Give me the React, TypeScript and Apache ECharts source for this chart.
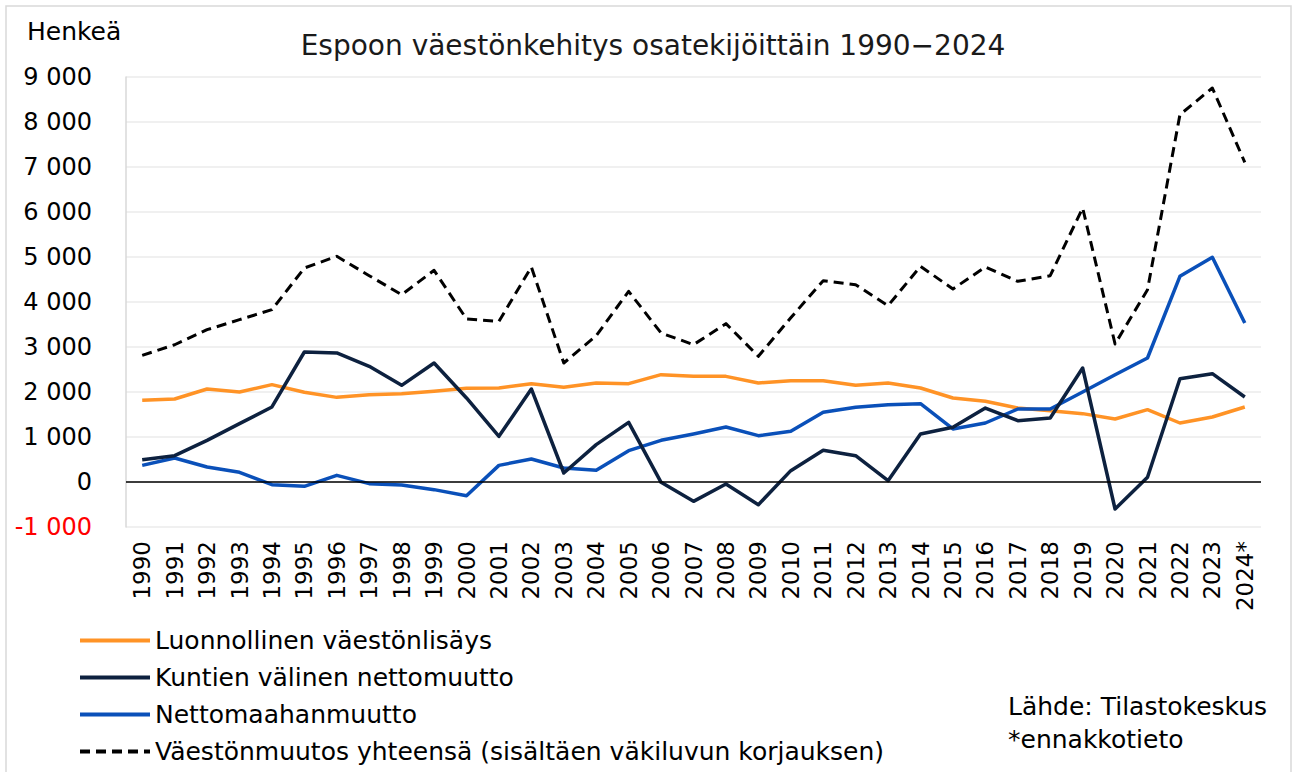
import React, { useEffect, useRef } from "react";
import * as echarts from "echarts";

const years = [
  "1990", "1991", "1992", "1993", "1994", "1995", "1996", "1997", "1998", "1999",
  "2000", "2001", "2002", "2003", "2004", "2005", "2006", "2007", "2008", "2009",
  "2010", "2011", "2012", "2013", "2014", "2015", "2016", "2017", "2018", "2019",
  "2020", "2021", "2022", "2023", "2024*",
];

const luonnollinen = [
  1815, 1844, 2067, 2000, 2163, 1993, 1881, 1941, 1963, 2015,
  2081, 2089, 2185, 2104, 2200, 2185, 2385, 2348, 2348, 2200,
  2252, 2252, 2148, 2200, 2089, 1867, 1793, 1644, 1585, 1519,
  1400, 1607, 1311, 1444, 1667,
];

const kuntienValinen = [
  496, 585, 926, 1296, 1667, 2889, 2867, 2570, 2148, 2644,
  1867, 1015, 2067, 200, 830, 1326, -7, -430, -44, -504,
  252, 704, 585, 30, 1067, 1215, 1644, 1363, 1422, 2533,
  -600, 104, 2296, 2407, 1889,
];

const maahanmuutto = [
  370, 533, 333, 215, -59, -96, 148, -37, -67, -170,
  -304, 370, 511, 311, 259, 696, 926, 1067, 1222, 1030,
  1126, 1548, 1659, 1719, 1741, 1178, 1311, 1622, 1622, 2000,
  2385, 2756, 4570, 4993, 3533,
];

const yhteensa = [
  2815, 3050, 3385, 3607, 3830, 4755, 5015, 4585, 4163, 4704,
  3622, 3570, 4778, 2644, 3252, 4237, 3311, 3052, 3519, 2793,
  3650, 4474, 4385, 3919, 4793, 4289, 4778, 4459, 4585, 6089,
  3067, 4274, 8163, 8756, 7104,
];

const seriesNames = [
  "Luonnollinen väestönlisäys",
  "Kuntien välinen nettomuutto",
  "Nettomaahanmuutto",
  "Väestönmuutos yhteensä (sisältäen väkiluvun korjauksen)",
];

const yMin = -1000;
const yMax = 9000;
const yStep = 1000;

const FONT = "DejaVu Sans";

function fmt(v: number): string {
  const s = Math.abs(v).toString();
  const withSep = s.replace(/\B(?=(\d{3})+(?!\d))/g, " ");
  return (v < 0 ? "-" : "") + withSep;
}

export default function App() {
  const ref = useRef<HTMLDivElement>(null);

  useEffect(() => {
    if (!ref.current) return;
    const chart = echarts.init(ref.current, undefined, { renderer: "svg" });

    const lineSeries = (name: string, data: number[], color: string, width: number, type: any, z: number) => ({
      name,
      type: "line",
      data,
      symbol: "none",
      showSymbol: false,
      z,
      lineStyle: { color, width, type, cap: "butt", join: "round" },
      itemStyle: { color },
    });

    chart.setOption({
      animation: false,
      backgroundColor: "#ffffff",
      textStyle: { fontFamily: FONT },
      title: {
        text: "Espoon väestönkehitys osatekijöittäin 1990−2024",
        left: 648,
        textAlign: "center",
        top: 26,
        textStyle: { fontFamily: FONT, fontSize: 28, fontWeight: "normal", color: "#1a1a1a" },
      },
      grid: { left: 126, right: 32, top: 77, bottom: 245, containLabel: false },
      xAxis: {
        type: "category",
        data: years,
        boundaryGap: true,
        axisLine: { show: false },
        axisTick: { show: false },
        axisLabel: {
          rotate: 90,
          interval: 0,
          margin: 14,
          fontSize: 23,
          fontFamily: FONT,
          color: "#000",
        },
        splitLine: { show: false },
      },
      yAxis: {
        type: "value",
        min: yMin,
        max: yMax,
        interval: yStep,
        axisLine: { show: true, lineStyle: { color: "#d9d9d9", width: 1.5 } },
        axisTick: { show: false },
        axisLabel: {
          margin: 34,
          fontSize: 24,
          fontFamily: FONT,
          formatter: (v: number) => fmt(v),
          color: (v: any) => (Number(v) < 0 ? "#ff0000" : "#000000"),
        },
        splitLine: { show: true, lineStyle: { color: "#ebebeb", width: 1.5 } },
      },
      legend: {
        orient: "vertical",
        left: 73,
        top: 622,
        height: 160,
        padding: 5,
        itemWidth: 70,
        itemHeight: 4,
        itemGap: 10,
        itemStyle: { opacity: 0 },
        lineStyle: { width: 4 },
        data: seriesNames,
        textStyle: { fontFamily: FONT, fontSize: 25, color: "#000", lineHeight: 27 },
        selectedMode: false,
      },
      graphic: [
        {
          type: "rect",
          shape: { x: 6, y: 6, width: 1285, height: 780 },
          style: { fill: "none", stroke: "#d9d9d9", lineWidth: 1.5 },
          silent: true,
          z: -10,
        },
        {
          type: "text",
          left: 27,
          top: 19,
          style: { text: "Henkeä", fontFamily: FONT, fontSize: 25, fill: "#000" },
        },
        {
          type: "text",
          left: 1008,
          top: 690,
          style: {
            text: "Lähde: Tilastokeskus\n*ennakkotieto",
            fontFamily: FONT,
            fontSize: 25,
            lineHeight: 33,
            fill: "#000",
          },
        },
      ],
      series: [
        {
          name: "zero",
          type: "line",
          data: [],
          z: 1,
          markLine: {
            silent: true,
            symbol: ["none", "none"],
            label: { show: false },
            lineStyle: { color: "#000", width: 1.5, type: "solid" },
            data: [{ yAxis: 0 }],
          },
        },
        lineSeries(seriesNames[0], luonnollinen, "#ff9326", 3.5, "solid", 3),
        lineSeries(seriesNames[1], kuntienValinen, "#0d213f", 3.5, "solid", 4),
        lineSeries(seriesNames[2], maahanmuutto, "#0a50b9", 3.5, "solid", 3),
        lineSeries(seriesNames[3], yhteensa, "#000000", 3, [10, 6], 5),
      ],
    });

    return () => chart.dispose();
  }, []);

  return (
    <div
      ref={ref}
      style={{ position: "absolute", left: 0, top: 0, width: 1293, height: 772 }}
    />
  );
}
